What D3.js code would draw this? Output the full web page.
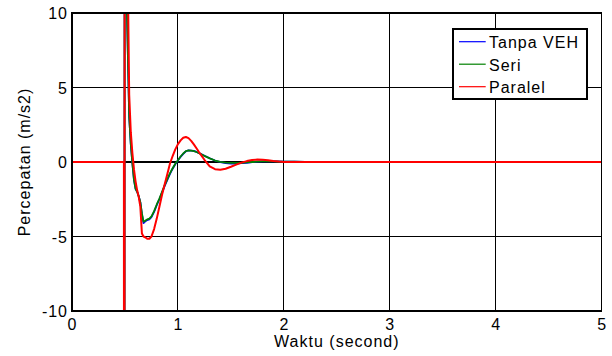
<!DOCTYPE html>
<html>
<head>
<meta charset="utf-8">
<script src="https://cdn.jsdelivr.net/npm/d3@7"></script>
<style>
  body { margin: 0; background: #fff; }
  text { font-family: Arial, "Liberation Sans", sans-serif; font-size: 16px; letter-spacing: 1px; fill: #000; }
</style>
</head>
<body>
<div id="chart"></div>
<script>
// waktu (detik) dipakai bersama oleh ketiga seri
const waktu = [0, 0.49, 0.492, 0.5, 0.519, 0.54, 0.555, 0.57, 0.585, 0.6, 0.615, 0.63, 0.645, 0.66, 0.675, 0.69,
  0.71, 0.73, 0.75, 0.775, 0.8, 0.825, 0.85, 0.875, 0.9, 0.925, 0.95, 0.975, 1.0, 1.025, 1.05, 1.075, 1.1,
  1.125, 1.15, 1.175, 1.2, 1.25, 1.3, 1.35, 1.4, 1.45, 1.5, 1.55, 1.6, 1.65, 1.7, 1.75, 1.8, 1.85, 1.9,
  1.95, 2.0, 2.1, 2.2, 2.3, 5]
const tanpaVEH = [0, 0, -60, 60, 10, 3.0, 1.2, -0.1, -1.2, -1.8, -2.0, -2.3, -2.7, -3.5, -4.1, -4.0,
  -3.9, -3.85, -3.7, -3.35, -2.9, -2.5, -2.05, -1.6, -1.2, -0.8, -0.45, -0.15, 0.1, 0.35, 0.55, 0.72, 0.78,
  0.77, 0.74, 0.68, 0.6, 0.42, 0.25, 0.1, 0.0, -0.07, -0.1, -0.1, -0.08, -0.05, -0.01, 0.02, 0.04, 0.05, 0.04,
  0.04, 0.03, 0.03, 0.01, 0, 0]
const seri = [0, 0, -60, 60, 10, 3.0, 1.2, -0.1, -1.2, -1.8, -2.0, -2.3, -2.7, -3.45, -4.0, -3.95,
  -3.85, -3.8, -3.65, -3.3, -2.85, -2.45, -2.0, -1.55, -1.15, -0.75, -0.42, -0.12, 0.12, 0.37, 0.57, 0.73, 0.78,
  0.77, 0.73, 0.67, 0.59, 0.41, 0.24, 0.1, 0.01, -0.04, -0.06, -0.06, -0.05, -0.03, 0.0, 0.02, 0.04, 0.04, 0.04,
  0.03, 0.03, 0.02, 0.01, 0, 0]
const paralel = [0, 0, -60, 60, 17, 4.5, 2.0, 0.6, -0.5, -1.3, -1.9, -2.35, -3.0, -4.8, -5.0, -5.05,
  -5.15, -5.15, -5.0, -4.5, -3.8, -3.0, -2.2, -1.5, -0.8, -0.1, 0.4, 0.85, 1.2, 1.45, 1.63, 1.68, 1.6,
  1.42, 1.18, 0.92, 0.65, 0.15, -0.3, -0.48, -0.52, -0.45, -0.32, -0.18, -0.04, 0.06, 0.13, 0.16, 0.15, 0.12, 0.07,
  0.03, 0, 0, 0, 0, 0]
const xTicks = [0, 1, 2, 3, 4, 5]
const yTicks = [-10, -5, 0, 5, 10]
const seriesNames = ['Tanpa VEH', 'Seri', 'Paralel']
const seriesValues = [tanpaVEH, seri, paralel]
const colorArr = ['#0000ff', '#008000', '#ff0000']

const width = 612
const height = 356
const pLeft = 72
const pRight = 601.7
const pTop = 13
const pBottom = 311

const svg = d3.select('#chart').append('svg').attr('width', width).attr('height', height)

// skala
const x = d3.scaleLinear().domain([0, 5]).range([pLeft, pRight])
const y = d3.scaleLinear().domain([-10, 10]).range([pBottom, pTop])

// garis grid (dibuat tajam spt MATLAB)
const grid = svg.append('g').attr('shape-rendering', 'crispEdges')
grid.selectAll('.gx').data(xTicks).enter().append('line')
  .attr('x1', d => x(d)).attr('x2', d => x(d)).attr('y1', pTop).attr('y2', pBottom)
  .attr('stroke', '#000').attr('stroke-width', 1)
grid.selectAll('.gy').data(yTicks).enter().append('line')
  .attr('x1', pLeft).attr('x2', pRight).attr('y1', d => y(d)).attr('y2', d => y(d))
  .attr('stroke', '#000').attr('stroke-width', d => d === 0 ? 2 : 1)

// clip area plot
svg.append('clipPath').attr('id', 'clip').append('rect')
  .attr('x', pLeft).attr('y', pTop).attr('width', pRight - pLeft).attr('height', pBottom - pTop)

const line = d3.line().x(d => x(d[0])).y(d => y(d[1]))
const plot = svg.append('g').attr('clip-path', 'url(#clip)')
seriesValues.forEach((vals, i) => {
  plot.append('path')
    .datum(waktu.map((t, j) => [t, vals[j]]))
    .attr('d', line)
    .attr('fill', 'none')
    .attr('stroke', colorArr[i])
    .attr('stroke-width', i === 2 ? 2 : 1.8)
    .attr('stroke-linejoin', 'round')
})

// kotak sumbu
const frame = svg.append('g').attr('shape-rendering', 'crispEdges')
frame.append('rect').attr('x', pLeft).attr('y', pTop).attr('width', pRight - pLeft).attr('height', pBottom - pTop)
  .attr('fill', 'none').attr('stroke', '#000').attr('stroke-width', 1.5)
frame.append('line').attr('x1', pLeft).attr('x2', pLeft).attr('y1', pTop).attr('y2', pBottom)
  .attr('stroke', '#000').attr('stroke-width', 2)
frame.append('line').attr('x1', pLeft).attr('x2', pRight).attr('y1', pBottom).attr('y2', pBottom)
  .attr('stroke', '#000').attr('stroke-width', 2)

// label tick
svg.selectAll('.xl').data(xTicks).enter().append('text')
  .attr('x', d => x(d) + 0.5).attr('y', 329.5).attr('text-anchor', 'middle').text(d => d)
svg.selectAll('.yl').data(yTicks).enter().append('text')
  .attr('x', 68).attr('y', d => y(d) + 6).attr('text-anchor', 'end').text(d => d)

// judul sumbu
svg.append('text').attr('x', (pLeft + pRight) / 2).attr('y', 347).attr('text-anchor', 'middle').text('Waktu (second)')
svg.append('text').attr('transform', 'translate(30,' + 162 + ') rotate(-90)')
  .attr('text-anchor', 'middle').text('Percepatan (m/s2)')

// legenda
const lg = svg.append('g')
lg.append('rect').attr('x', 453.3).attr('y', 29.3).attr('width', 133.4).attr('height', 69.4)
  .attr('fill', '#fff').attr('stroke', '#000').attr('stroke-width', 1.8).attr('shape-rendering', 'crispEdges')
seriesNames.forEach((name, i) => {
  const ly = 41.7 + i * 22.5
  lg.append('line').attr('x1', 459).attr('x2', 485.7).attr('y1', ly).attr('y2', ly)
    .attr('stroke', colorArr[i]).attr('stroke-width', 1.2)
  lg.append('text').attr('x', 489).attr('y', ly + 6.3).text(name)
})
</script>
</body>
</html>
